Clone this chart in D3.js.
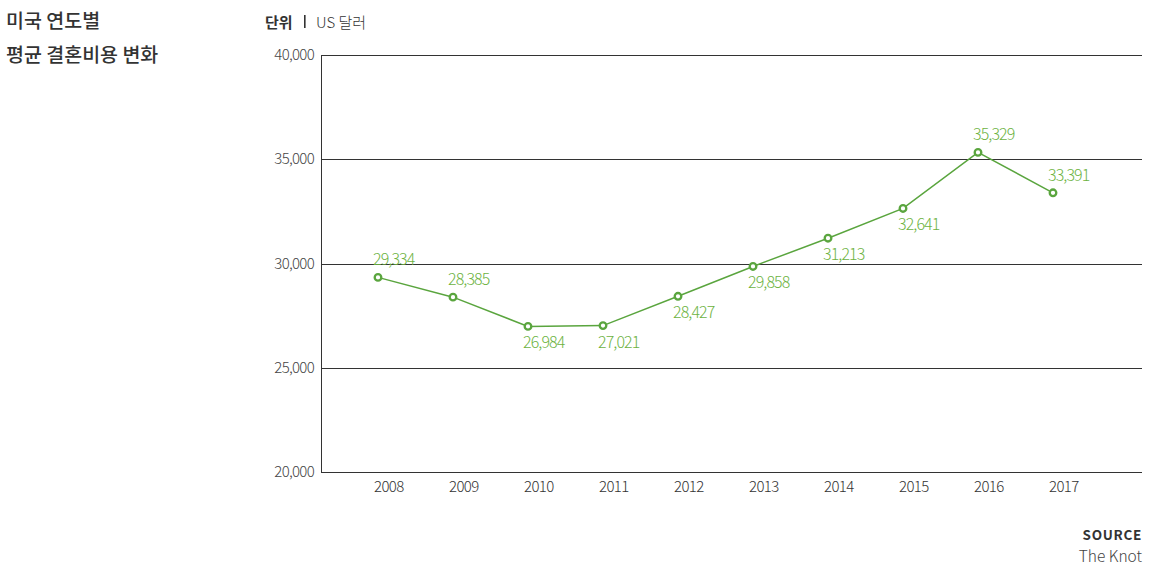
<!DOCTYPE html>
<html><head><meta charset="utf-8">
<script src="https://cdn.jsdelivr.net/npm/d3@7"></script>
<style>
body{margin:0;background:#fff;}
svg{display:block;font-family:"Noto Sans CJK KR","Noto Sans",sans-serif;}
</style></head>
<body><svg id="c" width="1163" height="576"></svg>
<script>
const years = [2008,2009,2010,2011,2012,2013,2014,2015,2016,2017];
const costs = [29334,28385,26984,27021,28427,29858,31213,32641,35329,33391];
const labelAbove = [true,true,false,false,false,false,false,false,true,true];
const yTicks = [20000,25000,30000,35000,40000];

const svg = d3.select("#c");
const L=321, R=1142, T=55, B=472;
const x = d3.scalePoint().domain(years).range([378,1053]);
const y = d3.scaleLinear().domain([20000,40000]).range([B,T]);
const fmt = d3.format(",");

// title
const title = svg.append("text").attr("fill","#333").attr("font-size",19.5).attr("font-weight",500);
title.append("tspan").attr("x",6).attr("y",28).text("미국 연도별");
title.append("tspan").attr("x",6).attr("y",62).text("평균 결혼비용 변화");

// unit
svg.append("text").attr("x",265).attr("y",28).attr("font-size",15).attr("font-weight",700).attr("fill","#333").text("단위");
svg.append("rect").attr("x",304).attr("y",15).attr("width",1.6).attr("height",13).attr("fill","#333");
svg.append("text").attr("x",316).attr("y",28).attr("font-size",15).attr("font-weight",300).attr("fill","#333").text("US 달러");

// grid lines
svg.append("g").selectAll("line").data(yTicks).join("line")
  .attr("x1",L).attr("x2",R).attr("y1",d=>Math.round(y(d))+0.5).attr("y2",d=>Math.round(y(d))+0.5)
  .attr("stroke","#333").attr("stroke-width",1);
svg.append("line").attr("x1",L+0.5).attr("x2",L+0.5).attr("y1",T).attr("y2",B+1).attr("stroke","#333");

// y labels
svg.append("g").selectAll("text").data(yTicks).join("text")
  .attr("x",314).attr("y",d=>y(d)+5).attr("text-anchor","end")
  .attr("font-size",15).attr("font-weight",300).attr("fill","#444").attr("letter-spacing","-0.7")
  .text(d=>fmt(d));

// x labels
svg.append("g").selectAll("text").data(years).join("text")
  .attr("x",d=>x(d)-4).attr("y",492)
  .attr("font-size",15).attr("font-weight",300).attr("fill","#333").attr("letter-spacing","-0.6")
  .text(d=>d);

const data = years.map((yr,i)=>({yr, v:costs[i], above:labelAbove[i]}));
svg.append("path").datum(data)
  .attr("d", d3.line().x(d=>x(d.yr)).y(d=>y(d.v)))
  .attr("fill","none").attr("stroke","#5aa53e").attr("stroke-width",1.5);
svg.append("g").selectAll("circle").data(data).join("circle")
  .attr("cx",d=>x(d.yr)).attr("cy",d=>y(d.v)).attr("r",3.3)
  .attr("fill","#fff").attr("stroke","#5aa53e").attr("stroke-width",2.3);
svg.append("g").selectAll("text").data(data).join("text")
  .attr("x",d=>x(d.yr)-5).attr("y",d=>y(d.v)+(d.above?-12:22))
  .attr("font-size",16).attr("font-weight",300).attr("fill","#6db33f").attr("letter-spacing","-0.9")
  .text(d=>fmt(d.v));

// source
svg.append("text").attr("x",1142).attr("y",540).attr("text-anchor","end")
  .attr("font-size",13.5).attr("font-weight",700).attr("fill","#333").attr("letter-spacing","0.7").text("SOURCE");
svg.append("text").attr("x",1142).attr("y",562).attr("text-anchor","end")
  .attr("font-size",15.5).attr("font-weight",300).attr("fill","#444").text("The Knot");
</script></body></html>
